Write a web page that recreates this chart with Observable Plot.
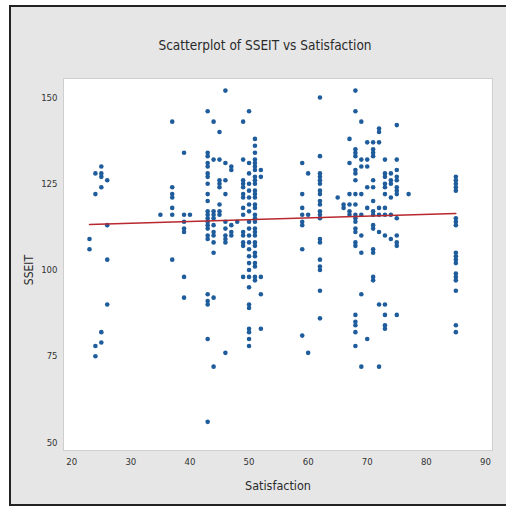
<!DOCTYPE html>
<html>
<head>
<meta charset="utf-8">
<script src="https://cdn.jsdelivr.net/npm/d3@7"></script>
<script src="https://cdn.jsdelivr.net/npm/@observablehq/plot@0.6"></script>
<style>
  body { margin: 0; background: #ffffff; width: 506px; height: 517px; overflow: hidden; position: relative; font-family: "DejaVu Sans Condensed", "DejaVu Sans", sans-serif; font-stretch: condensed; }
  #frame { position: absolute; left: 9px; top: 5px; width: 497px; height: 501px; background: #e6e6e6; border-left: 2px solid #222; border-top: 2px solid #222; border-bottom: 2px solid #222; box-sizing: border-box; }
  #title { position: absolute; left: 0; width: 530px; top: 37px; text-align: center; font-size: 13.5px; color: #2a2a2a; }
  #xlabel { position: absolute; left: 178px; width: 200px; top: 478px; text-align: center; font-size: 12.5px; color: #2a2a2a; }
  #ylabel { position: absolute; left: -70px; width: 200px; top: 262px; text-align: center; font-size: 12px; color: #2a2a2a; transform: rotate(-90deg); transform-origin: 100px 8px; }
  #chart { position: absolute; left: 0; top: 0; }
</style>
</head>
<body>
<div id="frame"></div>
<div id="title">Scatterplot of SSEIT vs Satisfaction</div>
<div id="chart"></div>
<div id="xlabel">Satisfaction</div>
<div id="ylabel">SSEIT</div>
<script>
// Satisfaction columns and SSEIT values
const satisfactionColumns = [23, 24, 25, 26, 35, 37, 39, 40, 43, 44, 45, 46, 47, 48, 49, 50, 51, 52, 59, 60, 62, 65, 66, 67, 68, 69, 70, 71, 72, 73, 74, 75, 77, 85];
const sseitByColumn = [
  [109, 106],
  [128, 122, 78, 75],
  [130, 128, 127, 124, 82, 79],
  [126, 113, 103, 90],
  [116],
  [143, 124, 122, 121, 118, 116, 103],
  [134, 116, 114, 112, 111, 98, 92],
  [116],
  [146, 134, 133, 131, 130, 128, 127, 125, 122, 120, 117, 116, 115, 114, 113, 112, 110, 109, 93, 91, 90, 80, 56],
  [143, 132, 117, 116, 115, 113, 111, 110, 108, 105, 92, 72],
  [140, 132, 126, 125, 124, 119, 117, 116],
  [152, 131, 126, 122, 114, 112, 110, 109, 108, 76],
  [130, 129, 113, 111, 110],
  [114],
  [143, 132, 126, 125, 124, 122, 121, 118, 116, 111, 110, 108, 107, 98],
  [146, 131, 128, 125, 123, 121, 119, 117, 114, 112, 110, 108, 106, 104, 102, 100, 98, 95, 90, 89, 83, 82, 80, 78],
  [138, 136, 134, 132, 131, 130, 129, 127, 126, 125, 123, 122, 121, 119, 118, 116, 115, 114, 112, 111, 110, 108, 107, 105, 104, 102, 101, 98, 97],
  [129, 127, 98, 93, 83],
  [131, 122, 118, 116, 114, 113, 106, 81],
  [128, 116, 76],
  [150, 133, 128, 127, 126, 125, 123, 122, 120, 119, 117, 116, 115, 109, 108, 103, 101, 100, 94, 86],
  [121],
  [119, 118],
  [138, 131, 122, 119, 117, 116],
  [152, 146, 135, 134, 133, 129, 128, 126, 122, 119, 116, 115, 114, 112, 111, 108, 107, 87, 85, 84, 82, 78],
  [143, 132, 130, 122, 116, 110, 105, 93, 72],
  [137, 132, 130, 124, 118, 80],
  [137, 135, 134, 133, 126, 124, 120, 117, 116, 113, 112, 106, 105, 98, 97],
  [141, 140, 137, 118, 116, 111, 90, 72],
  [132, 128, 127, 125, 124, 122, 118, 116, 110, 90, 87, 84, 83],
  [128, 126, 125, 121, 116, 109],
  [142, 132, 129, 127, 126, 124, 123, 122, 115, 110, 108, 107, 87],
  [122],
  [127, 126, 125, 124, 123, 115, 114, 113, 105, 104, 103, 102, 99, 98, 97, 94, 84, 82]
];
// Fitted line endpoints
const fitSatisfaction = [23, 85];
const fitSseit = [113.2, 116.4];
const xTicks = [20, 30, 40, 50, 60, 70, 80, 90];
const yTicks = [50, 75, 100, 125, 150];

const points = satisfactionColumns.flatMap((s, i) => sseitByColumn[i].map(v => ({Satisfaction: s, SSEIT: v})));
const fit = fitSatisfaction.map((s, i) => ({Satisfaction: s, SSEIT: fitSseit[i]}));

const chart = Plot.plot({
  width: 506,
  height: 517,
  marginLeft: 63,
  marginTop: 78,
  marginRight: 14,
  marginBottom: 67,
  style: { background: "transparent", fontFamily: "'DejaVu Sans Condensed', 'DejaVu Sans', sans-serif", fontStretch: "condensed", fontSize: "9.5px", color: "#333" },
  x: { domain: [18.6, 91.2], ticks: xTicks, tickSize: 0, tickPadding: 8, label: null },
  y: { domain: [47.7, 155.5], ticks: yTicks, tickSize: 0, tickPadding: 6, label: null },
  marks: [
    Plot.frame({ fill: "white", stroke: "#cfcfcf" }),
    Plot.dot(points, { x: "Satisfaction", y: "SSEIT", r: 2.3, fill: "#1f5c9c", stroke: "none" }),
    Plot.line(fit, { x: "Satisfaction", y: "SSEIT", stroke: "#b8282e", strokeWidth: 1.4 })
  ]
});
document.getElementById("chart").appendChild(chart);
</script>
</body>
</html>
